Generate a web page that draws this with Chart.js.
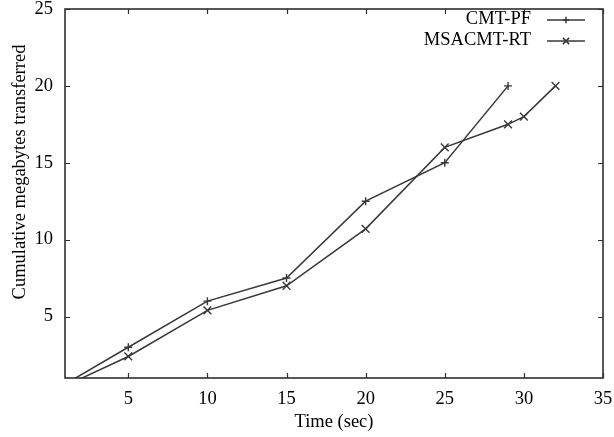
<!DOCTYPE html>
<html>
<head>
<meta charset="utf-8">
<script src="https://cdn.jsdelivr.net/npm/chart.js@4.4.1/dist/chart.umd.min.js"></script>
<style>
    body { margin: 0; background: #ffffff; }
</style>
</head>
<body>
<canvas id="cumulative-transfer-chart" width="614" height="437"></canvas>
<script>
const cmtPfTime = [0, 5, 10, 15, 20, 25, 29];
const cmtPfMegabytes = [0, 3, 6, 7.5, 12.5, 15, 20];

const msacmtRtTime = [0, 5, 10, 15, 20, 25, 29, 30, 32];
const msacmtRtMegabytes = [0, 2.4, 5.4, 7, 10.7, 16, 17.5, 18, 20];

const xTickValues = [5, 10, 15, 20, 25, 30, 35];
const yTickValues = [5, 10, 15, 20, 25];

const seriesLabels = ['CMT-PF', 'MSACMT-RT'];
const xAxisTitle = 'Time (sec)';
const yAxisTitle = 'Cumulative megabytes transferred';

const fontFamily = '"Liberation Serif", "Times New Roman", serif';
const fontSize = 18.5;
const inkColor = '#383838';

function toPoints(xs, ys) {
    return xs.map((x, i) => ({x: x, y: ys[i]}));
}

// labels at the ends may hang outside the plot, so the scales ask for no extra room
function noEdgePadding(scale) {
    scale.paddingLeft = 0;
    scale.paddingRight = 0;
    scale.paddingTop = 0;
    scale.paddingBottom = 0;
}

// gnuplot-like frame: box, inward ticks on all sides, rotated y title, legend top right
const frameAndLegend = {
    id: 'frameAndLegend',
    afterDraw(chart) {
        const ctx = chart.ctx;
        const area = chart.chartArea;
        const xScale = chart.scales.x;
        const yScale = chart.scales.y;
        const tick = 5;

        ctx.save();
        ctx.strokeStyle = '#2f2f2f';
        ctx.lineWidth = 1.6;
        ctx.strokeRect(area.left, area.top, area.right - area.left, area.bottom - area.top);

        ctx.lineWidth = 1.2;
        ctx.beginPath();
        xTickValues.forEach(v => {
            const px = Math.round(xScale.getPixelForValue(v)) + 0.5;
            ctx.moveTo(px, area.bottom);
            ctx.lineTo(px, area.bottom - tick);
            ctx.moveTo(px, area.top);
            ctx.lineTo(px, area.top + tick);
        });
        yTickValues.forEach(v => {
            const py = Math.round(yScale.getPixelForValue(v)) + 0.5;
            ctx.moveTo(area.left, py);
            ctx.lineTo(area.left + tick, py);
            ctx.moveTo(area.right, py);
            ctx.lineTo(area.right - tick, py);
        });
        ctx.stroke();

        // y axis title
        ctx.fillStyle = '#000000';
        ctx.font = fontSize + 'px ' + fontFamily;
        ctx.textAlign = 'center';
        ctx.textBaseline = 'middle';
        ctx.translate(20, 172);
        ctx.rotate(-Math.PI / 2);
        ctx.fillText(yAxisTitle, 0, 0);
        ctx.setTransform(1, 0, 0, 1, 0, 0);

        // legend: label, then a line sample with a slightly smaller marker
        const textRight = 531;
        const sampleLeft = 547;
        const sampleRight = 585;
        const rows = [19, 40];
        chart.data.datasets.forEach((ds, i) => {
            const y = rows[i];
            ctx.fillStyle = '#000000';
            ctx.textAlign = 'right';
            ctx.fillText(ds.label, textRight, y);

            ctx.strokeStyle = ds.borderColor;
            ctx.lineWidth = ds.borderWidth;
            ctx.beginPath();
            ctx.moveTo(sampleLeft, y + 1);
            ctx.lineTo(sampleRight, y + 1);
            ctx.stroke();

            Chart.helpers.drawPoint(ctx, {
                pointStyle: ds.pointStyle,
                radius: ds.pointRadius * 0.8,
                rotation: 0,
                borderWidth: ds.borderWidth
            }, (sampleLeft + sampleRight) / 2, y + 1);
        });
        ctx.restore();
    }
};

const data = {
    datasets: [
        {
            label: seriesLabels[0],
            data: toPoints(cmtPfTime, cmtPfMegabytes),
            borderColor: inkColor,
            backgroundColor: inkColor,
            borderWidth: 1.5,
            pointStyle: 'cross',
            pointRadius: 4,
            pointBorderWidth: 1.4,
            tension: 0
        },
        {
            label: seriesLabels[1],
            data: toPoints(msacmtRtTime, msacmtRtMegabytes),
            borderColor: inkColor,
            backgroundColor: inkColor,
            borderWidth: 1.5,
            pointStyle: 'crossRot',
            pointRadius: 5.5,
            pointBorderWidth: 1.4,
            tension: 0
        }
    ]
};

const config = {
    type: 'line',
    data: data,
    plugins: [frameAndLegend],
    options: {
        responsive: false,
        animation: false,
        layout: {
            padding: {top: 9, right: 11, bottom: 0, left: 0}
        },
        plugins: {
            legend: {display: false},
            tooltip: {enabled: false}
        },
        scales: {
            x: {
                type: 'linear',
                min: 1,
                max: 35,
                grid: {display: false, drawTicks: false},
                border: {display: false},
                afterBuildTicks: scale => {
                    scale.ticks = xTickValues.map(v => ({value: v}));
                },
                afterFit: scale => {
                    scale.height = 59;
                    noEdgePadding(scale);
                },
                ticks: {
                    padding: 10,
                    color: '#000000',
                    font: {family: fontFamily, size: fontSize}
                },
                title: {
                    display: true,
                    text: xAxisTitle,
                    color: '#000000',
                    padding: {top: 0, bottom: 4},
                    font: {family: fontFamily, size: fontSize}
                }
            },
            y: {
                type: 'linear',
                min: 1,
                max: 25,
                grid: {display: false, drawTicks: false},
                border: {display: false},
                afterBuildTicks: scale => {
                    scale.ticks = yTickValues.map(v => ({value: v}));
                },
                afterFit: scale => {
                    scale.width = 65;
                    noEdgePadding(scale);
                },
                ticks: {
                    padding: 12,
                    color: '#000000',
                    font: {family: fontFamily, size: fontSize}
                }
            }
        }
    }
};

new Chart(document.getElementById('cumulative-transfer-chart'), config);
</script>
</body>
</html>
